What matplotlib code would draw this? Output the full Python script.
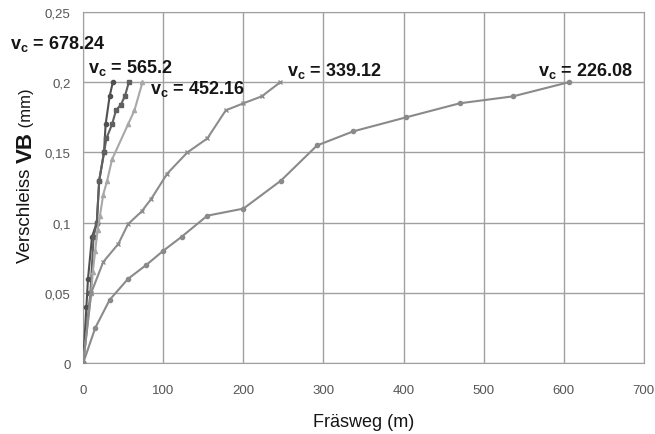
import matplotlib
matplotlib.use("Agg")
import matplotlib.pyplot as plt
from matplotlib.ticker import FuncFormatter

plt.rcParams['font.family'] = 'Liberation Sans'
plt.rcParams['mathtext.fontset'] = 'custom'
plt.rcParams['mathtext.rm'] = 'Liberation Sans'
plt.rcParams['mathtext.bf'] = 'Liberation Sans:bold'

# cutting speeds v_c and wear curves
vc_678_x = [0, 4, 6, 11, 17, 20, 26, 28, 33, 37]
vc_678_y = [0, 0.04, 0.06, 0.09, 0.10, 0.13, 0.15, 0.17, 0.19, 0.20]

vc_565_x = [0, 9, 13, 17, 20, 26, 29, 36, 41, 47, 52, 57]
vc_565_y = [0, 0.05, 0.09, 0.10, 0.13, 0.15, 0.16, 0.17, 0.18, 0.184, 0.19, 0.20]

vc_452_x = [0, 10, 12, 15, 18, 21, 25, 30, 36, 56, 64, 74]
vc_452_y = [0, 0.05, 0.065, 0.08, 0.095, 0.105, 0.12, 0.13, 0.145, 0.17, 0.18, 0.20]

vc_339_x = [0, 10, 25, 44, 56, 73, 85, 105, 130, 155, 178, 200, 223, 246]
vc_339_y = [0, 0.05, 0.072, 0.085, 0.099, 0.108, 0.117, 0.135, 0.15, 0.16, 0.18, 0.185, 0.19, 0.20]

vc_226_x = [0, 15, 33, 56, 79, 100, 123, 155, 200, 247, 292, 337, 403, 470, 537, 606]
vc_226_y = [0, 0.025, 0.045, 0.06, 0.07, 0.08, 0.09, 0.105, 0.11, 0.13, 0.155, 0.165, 0.175, 0.185, 0.19, 0.20]

series = [
    (vc_678_x, vc_678_y, "#505050", "o"),
    (vc_565_x, vc_565_y, "#606060", "s"),
    (vc_452_x, vc_452_y, "#a8a8a8", "^"),
    (vc_339_x, vc_339_y, "#8c8c8c", "x"),
    (vc_226_x, vc_226_y, "#8a8a8a", "o"),
]

labels = ["678.24", "565.2", "452.16", "339.12", "226.08"]
label_pos = [(-91, 0.228), (6, 0.211), (83, 0.196), (254, 0.209), (568, 0.209)]

fig = plt.figure(figsize=(6.55, 4.35), dpi=100)
ax = fig.add_axes([0.127, 0.163, 0.856, 0.807])

for x, y, c, m in series:
    ax.plot(x, y, color=c, lw=1.5, marker=m, ms=3, mew=1, zorder=3)

for lab, (lx, ly) in zip(labels, label_pos):
    ax.text(lx, ly, r"v$_\mathbf{c}$ = " + lab, fontsize=13, fontweight='bold',
            ha='left', va='center', color='#151515', clip_on=False, zorder=4)

ax.set_xlim(0, 700)
ax.set_ylim(0, 0.25)
ax.set_xticks(range(0, 701, 100))
ax.set_yticks([0, 0.05, 0.1, 0.15, 0.2, 0.25])
ax.yaxis.set_major_formatter(FuncFormatter(lambda v, p: ("%g" % round(v, 2)).replace(".", ",")))
ax.grid(True, color="#a0a0a0", lw=1)
ax.set_axisbelow(True)
ax.tick_params(length=0, labelsize=9.5, colors="#555555")
ax.tick_params(axis='x', pad=15)
ax.tick_params(axis='y', pad=9)
for s in ax.spines.values():
    s.set_color("#a0a0a0")

ax.set_xlabel("Fräsweg (m)", fontsize=13, color="#151515", labelpad=12)

# y label in three parts: normal, bold, smaller
fig.canvas.draw()
r = fig.canvas.get_renderer()
y0 = 435 - 263
parts = [("Verschleiss ", 13.5, "normal"), ("VB", 16, "bold"), (" (mm)", 12, "normal")]
for txt, fs, fw in parts:
    t = fig.text(26 / 655, y0 / 435, txt, rotation=90, fontsize=fs, fontweight=fw,
                 color="#151515", ha='center', va='bottom', rotation_mode='default')
    bb = t.get_window_extent(r)
    y0 += bb.height

fig.savefig("out.png", dpi=100)
